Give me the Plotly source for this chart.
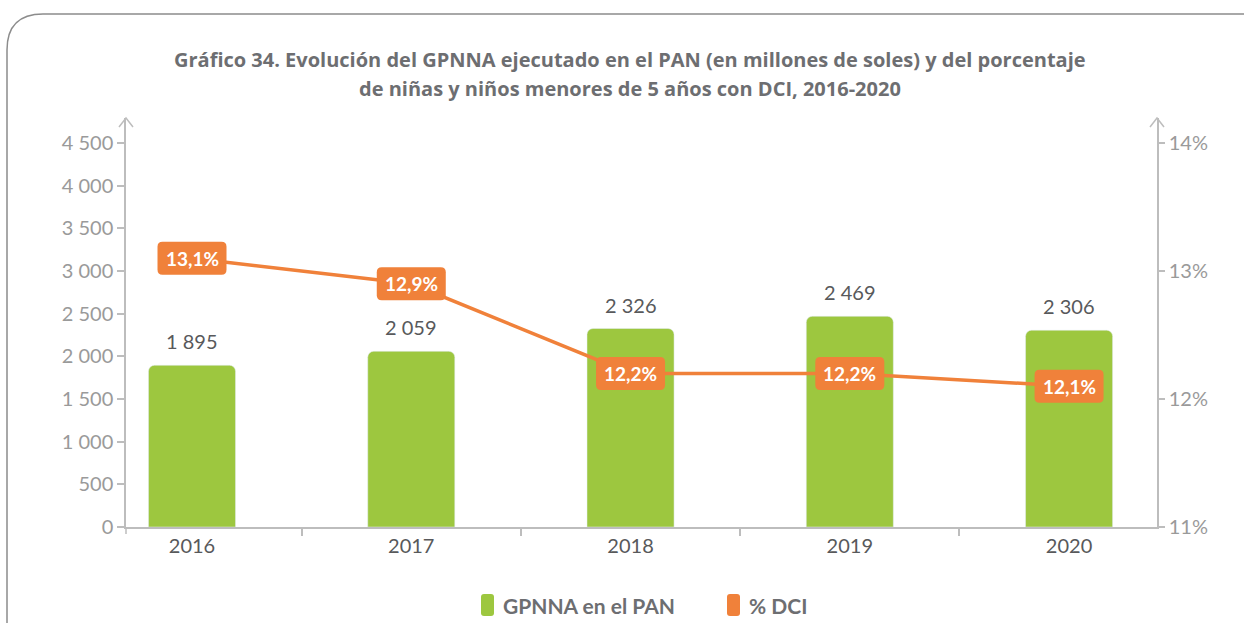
import plotly.graph_objects as go

# Data
years = ["2016", "2017", "2018", "2019", "2020"]
gasto = [1895, 2059, 2326, 2469, 2306]          # GPNNA ejecutado en el PAN (millones de soles)
dci = [13.1, 12.9, 12.2, 12.2, 12.1]             # % DCI
dci_labels = ["13,1%", "12,9%", "12,2%", "12,2%", "12,1%"]
gasto_labels = ["1 895", "2 059", "2 326", "2 469", "2 306"]
left_ticks = [0, 500, 1000, 1500, 2000, 2500, 3000, 3500, 4000, 4500]
left_ticktext = ["0", "500", "1 000", "1 500", "2 000", "2 500", "3 000", "3 500", "4 000", "4 500"]
right_ticks = [11, 12, 13, 14]
right_ticktext = ["11%", "12%", "13%", "14%"]

title_lines = [
    "Gráfico 34. Evolución del GPNNA ejecutado en el PAN (en millones de soles) y del porcentaje",
    "de niñas y niños menores de 5 años con DCI, 2016-2020",
]
legend_names = ["GPNNA en el PAN", "% DCI"]

GREEN = "#9DC73F"
ORANGE = "#F0813A"
AXIS = "#BDBDBD"
TICKTXT = "#9A9A9A"
DARK = "#58595B"
TITLE = "#6D6E71"

W, H = 1244, 623
ML, MR, MT, MB = 126, 87, 118, 96
PW, PH = W - ML - MR, H - MT - MB

def px(x):
    return (x - ML) / PW

def py(y):
    return (H - MB - y) / PH

x = list(range(len(years)))
# axis extends a little above the 4 500 / 14 % gridline (arrow head area)
top_frac = PH / (PH - 25)
y1max = 4500 * top_frac
y2max = 11 + 3 * top_frac

fig = go.Figure()
fig.add_trace(go.Bar(
    x=x, y=gasto, name=legend_names[0], marker_color=GREEN,
    width=0.397, yaxis="y", showlegend=False, hoverinfo="skip",
))
fig.add_trace(go.Scatter(
    x=x, y=dci, name=legend_names[1], mode="lines",
    line=dict(color=ORANGE, width=3.5), yaxis="y2", showlegend=False, hoverinfo="skip",
))

shapes = []
annotations = []

# value labels above bars
for xi, v, t in zip(x, gasto, gasto_labels):
    annotations.append(dict(
        x=xi, y=v, xref="x", yref="y", text=t, showarrow=False,
        yanchor="bottom", yshift=10,
        font=dict(family="Lato", size=20, color=DARK),
    ))

# rounded orange boxes with the % DCI values
bw, bh, r = 34.5, 16.5, 5
box_path = (
    f"M {-bw + r},{-bh} L {bw - r},{-bh} Q {bw},{-bh} {bw},{-bh + r} "
    f"L {bw},{bh - r} Q {bw},{bh} {bw - r},{bh} L {-bw + r},{bh} "
    f"Q {-bw},{bh} {-bw},{bh - r} L {-bw},{-bh + r} Q {-bw},{-bh} {-bw + r},{-bh} Z"
)
for xi, v, t in zip(x, dci, dci_labels):
    shapes.append(dict(
        type="path", xref="x", yref="y2", xsizemode="pixel", ysizemode="pixel",
        xanchor=xi, yanchor=v, path=box_path,
        fillcolor=ORANGE, line=dict(width=0), layer="above",
    ))
    annotations.append(dict(
        x=xi, y=v, xref="x", yref="y2", text=f"<b>{t}</b>", showarrow=False,
        font=dict(family="Lato", size=19, color="white"),
    ))

# arrow heads on both vertical axes
for ax in (ML, W - MR):
    shapes.append(dict(
        type="path", xref="paper", yref="paper",
        path=f"M {px(ax - 7)},{py(MT + 9)} L {px(ax)},{py(MT)} L {px(ax + 7)},{py(MT + 9)}",
        line=dict(color=AXIS, width=1.5),
    ))
# small extension of the left axis below the baseline
shapes.append(dict(
    type="line", xref="paper", yref="paper",
    x0=0, x1=0, y0=0, y1=py(H - MB + 7), line=dict(color=AXIS, width=1.5),
))

# outer frame with rounded top-left corner
shapes.append(dict(
    type="path", xref="paper", yref="paper",
    path=(f"M {px(7)},{py(H + 5)} L {px(7)},{py(50)} "
          f"Q {px(7)},{py(14)} {px(43)},{py(14)} L {px(W + 5)},{py(14)}"),
    line=dict(color="#8C8C8C", width=1.5),
))

# title
for i, line in enumerate(title_lines):
    annotations.append(dict(
        x=px(W / 2 + 8), y=py(60 + 28 * i), xref="paper", yref="paper",
        text=f"<b>{line}</b>", showarrow=False, xanchor="center", yanchor="middle",
        font=dict(family="Open Sans", size=20, color=TITLE),
    ))

# legend
legend_items = [(legend_names[0], GREEN, 481), (legend_names[1], ORANGE, 727)]
for name, color, lx in legend_items:
    shapes.append(dict(
        type="path", xref="paper", yref="paper",
        path=(f"M {px(lx + 3)},{py(594)} L {px(lx + 10)},{py(594)} Q {px(lx + 13)},{py(594)} {px(lx + 13)},{py(597)} "
              f"L {px(lx + 13)},{py(613)} Q {px(lx + 13)},{py(616)} {px(lx + 10)},{py(616)} "
              f"L {px(lx + 3)},{py(616)} Q {px(lx)},{py(616)} {px(lx)},{py(613)} "
              f"L {px(lx)},{py(597)} Q {px(lx)},{py(594)} {px(lx + 3)},{py(594)} Z"),
        fillcolor=color, line=dict(width=0),
    ))
    annotations.append(dict(
        x=px(lx + 20), y=py(605), xref="paper", yref="paper",
        text=f"<b>{name}</b>", showarrow=False, xanchor="left", yanchor="middle",
        font=dict(family="Lato", size=21, color=TITLE),
    ))

fig.update_layout(
    width=W, height=H,
    margin=dict(l=ML, r=MR, t=MT, b=MB, pad=0),
    paper_bgcolor="white", plot_bgcolor="white",
    showlegend=False,
    xaxis=dict(
        range=[-0.301, 4.401], tickvals=x, ticktext=years, ticks="",
        showgrid=False, zeroline=False, showline=True, linecolor=AXIS, linewidth=1.5,
        tickfont=dict(family="Lato", size=20, color=DARK),
        minor=dict(tickvals=[0.5, 1.5, 2.5, 3.5], ticks="outside", ticklen=7,
                   tickcolor=AXIS, tickwidth=1.5, showgrid=False),
    ),
    yaxis=dict(
        range=[0, y1max], tickvals=left_ticks, ticktext=left_ticktext,
        ticks="outside", ticklen=7, tickcolor=AXIS, tickwidth=1.5,
        showgrid=False, zeroline=False, showline=True, linecolor=AXIS, linewidth=1.5,
        tickfont=dict(family="Lato", size=20, color=TICKTXT),
    ),
    yaxis2=dict(
        range=[11, y2max], tickvals=right_ticks, ticktext=right_ticktext,
        overlaying="y", side="right",
        ticks="outside", ticklen=6, tickcolor=AXIS, tickwidth=1.5,
        showgrid=False, zeroline=False, showline=True, linecolor=AXIS, linewidth=1.5,
        tickfont=dict(family="Lato", size=20, color=TICKTXT),
    ),
    barcornerradius=6,
    shapes=shapes,
    annotations=annotations,
)

fig.write_html("out.html")
